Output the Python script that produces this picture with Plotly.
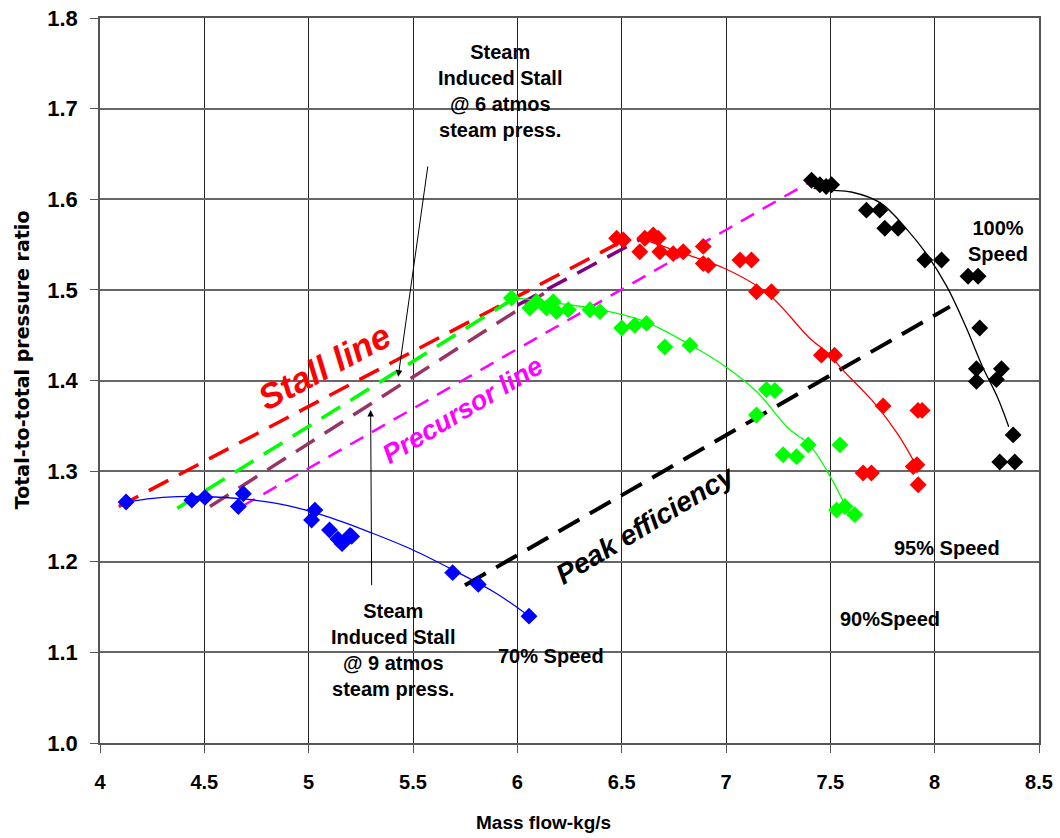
import plotly.graph_objects as go

# ---------------- data ----------------
speed70_x = [4.125, 4.44, 4.503, 4.663, 4.687, 5.014, 5.03, 5.10, 5.14, 5.16, 5.198, 5.206, 5.69, 5.813, 6.056]
speed70_y = [1.266, 1.268, 1.271, 1.261, 1.275, 1.246, 1.257, 1.235, 1.225, 1.220, 1.229, 1.228, 1.188, 1.175, 1.140]
fit70_x = [4.13, 4.3, 4.5, 4.7, 4.9, 5.1, 5.3, 5.5, 5.7, 5.9, 6.05]
fit70_y = [1.266, 1.271, 1.272, 1.269, 1.262, 1.249, 1.232, 1.213, 1.190, 1.165, 1.141]

speed90_x = [5.972, 6.06, 6.092, 6.14, 6.172, 6.188, 6.244, 6.348, 6.396, 6.50, 6.563, 6.619, 6.707, 6.827,
             7.146, 7.194, 7.234, 7.274, 7.338, 7.394, 7.546, 7.53, 7.57, 7.617]
speed90_y = [1.491, 1.480, 1.487, 1.480, 1.487, 1.476, 1.478, 1.478, 1.476, 1.458, 1.461, 1.463, 1.437, 1.439,
             1.362, 1.390, 1.389, 1.318, 1.316, 1.329, 1.329, 1.257, 1.261, 1.252]
fit90_x = [5.97, 6.2, 6.4, 6.6, 6.8, 7.0, 7.15, 7.3, 7.4, 7.5, 7.6]
fit90_y = [1.492, 1.485, 1.478, 1.466, 1.443, 1.415, 1.387, 1.347, 1.329, 1.294, 1.248]

speed95_x = [6.476, 6.508, 6.587, 6.611, 6.651, 6.675, 6.683, 6.747, 6.795, 6.891, 6.891, 6.915, 7.067, 7.122,
             7.146, 7.218, 7.457, 7.52, 7.753, 7.92, 7.94, 7.657, 7.697, 7.897, 7.915, 7.921]
speed95_y = [1.557, 1.555, 1.542, 1.557, 1.5605, 1.557, 1.542, 1.540, 1.542, 1.548, 1.529, 1.527, 1.533, 1.533,
             1.498, 1.498, 1.428, 1.428, 1.372, 1.367, 1.367, 1.298, 1.298, 1.305, 1.307, 1.285]
fit95_x = [6.6, 6.8, 7.0, 7.2, 7.4, 7.5, 7.55, 7.7, 7.82, 7.9]
fit95_y = [1.556, 1.540, 1.523, 1.496, 1.447, 1.428, 1.414, 1.378, 1.342, 1.311]

speed100_x = [7.41, 7.45, 7.48, 7.506, 7.673, 7.737, 7.761, 7.825, 7.953, 8.033, 8.16, 8.208, 8.216, 8.2, 8.2,
              8.32, 8.296, 8.376, 8.312, 8.384]
speed100_y = [1.621, 1.616, 1.614, 1.616, 1.588, 1.588, 1.568, 1.568, 1.533, 1.533, 1.515, 1.515, 1.458, 1.413,
              1.399, 1.413, 1.401, 1.340, 1.310, 1.310]
fit100_x = [7.42, 7.5, 7.6, 7.74, 7.87, 7.96, 8.06, 8.15, 8.23, 8.3, 8.355]
fit100_y = [1.612, 1.610, 1.608, 1.596, 1.566, 1.540, 1.503, 1.459, 1.415, 1.382, 1.349]

stall_x = [4.09, 6.48]
stall_y = [1.261, 1.551]
steam6_x = [4.37, 5.98]
steam6_y = [1.259, 1.490]
steam9_x = [4.527, 6.14]
steam9_y = [1.261, 1.498]
steam9b_x = [6.0, 6.6]
steam9b_y = [1.483, 1.557]
precursor_x = [4.679, 7.394]
precursor_y = [1.261, 1.618]
peak_x = [5.749, 8.073]
peak_y = [1.174, 1.4815]

x_ticks = [4, 4.5, 5, 5.5, 6, 6.5, 7, 7.5, 8, 8.5]
x_tick_labels = ["4", "4.5", "5", "5.5", "6", "6.5", "7", "7.5", "8", "8.5"]
y_ticks = [1.0, 1.1, 1.2, 1.3, 1.4, 1.5, 1.6, 1.7, 1.8]
y_tick_labels = ["1.0", "1.1", "1.2", "1.3", "1.4", "1.5", "1.6", "1.7", "1.8"]

# ---------------- figure ----------------
fig = go.Figure()

def dashed(xs, ys, color, width, dash):
    fig.add_trace(go.Scatter(x=xs, y=ys, mode="lines",
                             line=dict(color=color, width=width, dash=dash),
                             hoverinfo="skip", showlegend=False))

def fit(xs, ys, color):
    fig.add_trace(go.Scatter(x=xs, y=ys, mode="lines", line=dict(color=color, width=1.3, shape="spline"),
                             hoverinfo="skip", showlegend=False))

def pts(xs, ys, color):
    fig.add_trace(go.Scatter(x=xs, y=ys, mode="markers",
                             marker=dict(symbol="diamond", size=13, color=color, line=dict(width=0)),
                             showlegend=False))

dashed(stall_x, stall_y, "#FF0000", 3.5, "22px,12px")
dashed(steam6_x, steam6_y, "#00FF00", 3.5, "22px,12px")
dashed(steam9_x, steam9_y, "#993366", 3.5, "22px,12px")
dashed(steam9b_x, steam9b_y, "#800080", 3.5, "22px,12px")
dashed(precursor_x, precursor_y, "#FF00FF", 2.5, "15px,10px")
dashed(peak_x, peak_y, "#000000", 4, "24px,12px")

fit(fit70_x, fit70_y, "#0000FF")
fit(fit90_x, fit90_y, "#00FF00")
fit(fit95_x, fit95_y, "#FF0000")
fit(fit100_x, fit100_y, "#000000")

pts(speed70_x, speed70_y, "#0000FF")
pts(speed90_x, speed90_y, "#00FF00")
pts(speed95_x, speed95_y, "#FF0000")
pts(speed100_x, speed100_y, "#000000")

sans = "Liberation Sans, Arial, sans-serif"
lbl = dict(family=sans, size=20, color="black")

annotations = [
    dict(x=5.917, y=1.7194, text="<b>Steam<br>Induced Stall<br>@ 6 atmos<br>steam press.</b>", font=lbl),
    dict(x=5.404, y=1.1026, text="<b>Steam<br>Induced Stall<br>@ 9 atmos<br>steam press.</b>", font=lbl),
    dict(x=6.161, y=1.096, text="<b>70% Speed</b>", font=lbl),
    dict(x=7.785, y=1.1368, text="<b>90%Speed</b>", font=lbl),
    dict(x=8.058, y=1.2152, text="<b>95% Speed</b>", font=lbl),
    dict(x=8.303, y=1.554, text="<b>100%<br>Speed</b>", font=lbl),
    dict(x=5.073, y=1.416, text="<b><i>Stall line</i></b>", textangle=-28,
         font=dict(family=sans, size=35, color="#FF0000")),
    dict(x=5.739, y=1.3674, text="<b><i>Precursor line</i></b>", textangle=-31,
         font=dict(family=sans, size=27, color="#FF00FF")),
    dict(x=6.616, y=1.2406, text="<b><i>Peak efficiency</i></b>", textangle=-31,
         font=dict(family=sans, size=28, color="#000000")),
]
for a in annotations:
    a.update(xref="x", yref="y", showarrow=False, xanchor="center", yanchor="middle")
    fig.add_annotation(**a)

# arrows
fig.add_annotation(x=5.429, y=1.4042, ax=5.572, ay=1.6378, xref="x", yref="y", axref="x", ayref="y",
                   text="", showarrow=True, arrowhead=2, arrowsize=1.3, arrowwidth=1, arrowcolor="black")
fig.add_annotation(x=5.297, y=1.3675, ax=5.302, ay=1.1725, xref="x", yref="y", axref="x", ayref="y",
                   text="", showarrow=True, arrowhead=2, arrowsize=1.3, arrowwidth=1, arrowcolor="black")

# axis titles
fig.add_annotation(xref="paper", yref="paper", x=-0.083, y=0.528, text="<b>Total-to-total pressure ratio</b>",
                   textangle=-90, showarrow=False, xanchor="center", yanchor="middle",
                   font=dict(family="DejaVu Sans, sans-serif", size=19, color="black"))
fig.add_annotation(xref="paper", yref="paper", x=0.4718, y=-0.109, text="<b>Mass flow-kg/s</b>",
                   showarrow=False, xanchor="center", yanchor="middle",
                   font=dict(family=sans, size=19, color="black"))

fig.update_layout(
    width=1060, height=838,
    margin=dict(l=100, r=21, t=18, b=95, autoexpand=False),
    paper_bgcolor="white", plot_bgcolor="white",
    showlegend=False,
    xaxis=dict(range=[4, 8.5], tickvals=x_ticks, ticktext=[f"<b>{t}</b>" for t in x_tick_labels],
               showgrid=True, gridcolor="#222222", gridwidth=1, automargin=False,
               showline=True, linecolor="#555555", linewidth=1.5, mirror=True,
               ticks="outside", ticklen=8, tickcolor="#555555", ticklabelstandoff=12,
               ticklabeloverflow="allow",
               tickfont=dict(family=sans, size=20, color="black"), zeroline=False),
    yaxis=dict(range=[1.0, 1.8], tickvals=y_ticks, ticktext=[f"<b>{t}</b>" for t in y_tick_labels],
               showgrid=True, gridcolor="#666666", gridwidth=1.5, automargin=False,
               showline=True, linecolor="#555555", linewidth=1.5, mirror=True,
               ticks="outside", ticklen=8, tickcolor="#555555", ticklabelstandoff=8,
               ticklabeloverflow="allow",
               tickfont=dict(family=sans, size=22, color="black"),
               zeroline=False),
)

fig.write_html("out.html", config={"displayModeBar": False},
               post_script="document.body.style.margin='0';document.body.style.overflow='hidden';")
